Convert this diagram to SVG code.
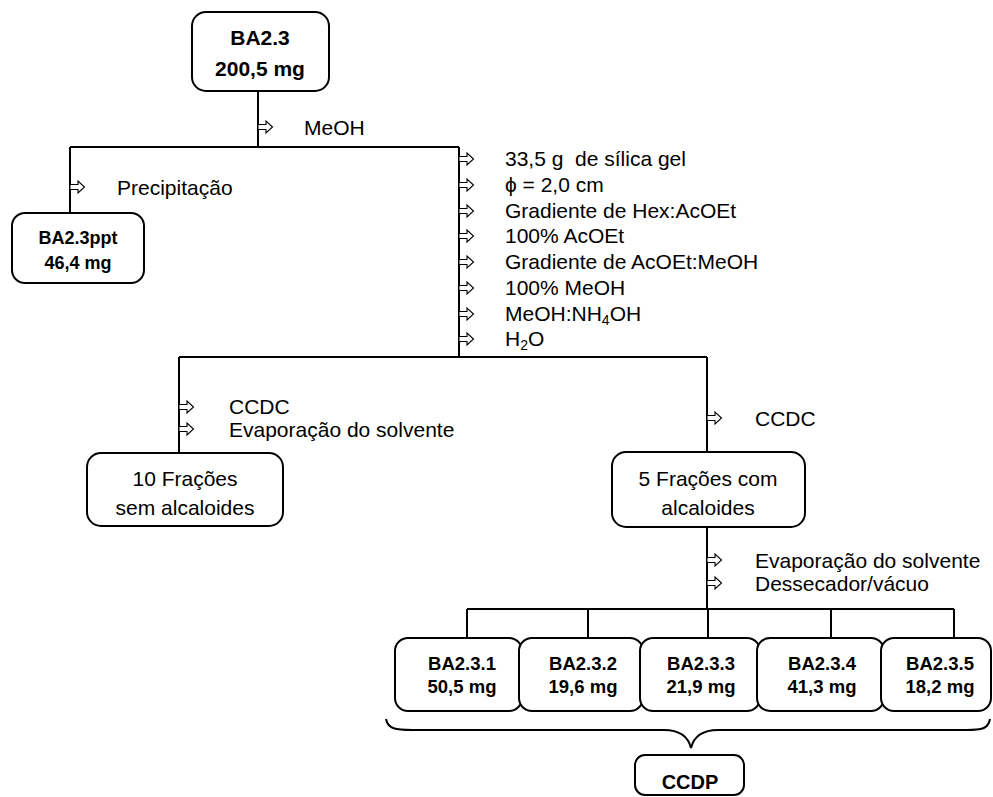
<svg xmlns="http://www.w3.org/2000/svg" xmlns:xlink="http://www.w3.org/1999/xlink" width="993" height="797" viewBox="0 0 993 797">
  <style>
    .box { fill: #fff; stroke: #000; stroke-width: 2; }
    .line { fill: none; stroke: #000; stroke-width: 2; }
    .t { font-family: "Liberation Sans", Arial, sans-serif; font-size: 21px; fill: #000; }
    .b { font-family: "Liberation Sans", Arial, sans-serif; font-weight: bold; fill: #000; text-anchor: middle; }
    .c { text-anchor: middle; }
  </style>
  <defs>
    <!-- hollow step arrow used in front of every operation label -->
    <path id="arr" d="M0,-2.5 H8 V-6 L14.5,0 L8,6 V2.5 H0 Z" fill="#fff" stroke="#000" stroke-width="1.1" stroke-linejoin="miter"/>
  </defs>
  <rect width="993" height="797" fill="#fff"/>

  <!-- connectors -->
  <g id="connectors">
    <path class="line" d="M258,91 V147 M70,147 H459 M70,147 V213 M459,147 V357"/>
    <path class="line" d="M179,357 H707 M179,357 V453 M707,357 V452"/>
    <path class="line" d="M707,527 V609 M467,609 H954 M467,609 V638 M588,609 V638 M708,609 V638 M831,609 V638 M954,609 V638"/>
    <!-- brace gathering the five fractions -->
    <path class="line" stroke-width="1.8" d="M386,719 C388,729 396,730 412,730 H664 C680,730 688,736 691,748 C694,736 702,730 718,730 H966 C982,730 988,729 990,719"/>
    <!-- step arrows -->
    <use xlink:href="#arr" x="258" y="127"/>
    <use xlink:href="#arr" x="70" y="187"/>
    <use xlink:href="#arr" x="459" y="159"/>
    <use xlink:href="#arr" x="459" y="185"/>
    <use xlink:href="#arr" x="459" y="211"/>
    <use xlink:href="#arr" x="459" y="236"/>
    <use xlink:href="#arr" x="459" y="262"/>
    <use xlink:href="#arr" x="459" y="288"/>
    <use xlink:href="#arr" x="459" y="314"/>
    <use xlink:href="#arr" x="459" y="339"/>
    <use xlink:href="#arr" x="179" y="407"/>
    <use xlink:href="#arr" x="179" y="429"/>
    <use xlink:href="#arr" x="707" y="418"/>
    <use xlink:href="#arr" x="707" y="560"/>
    <use xlink:href="#arr" x="707" y="583"/>
  </g>

  <!-- operation labels -->
  <g id="labels">
    <text class="t" x="304" y="135">MeOH</text>
    <text class="t" x="117" y="195">Precipitação</text>
    <text class="t" x="505" y="166">33,5 g&#160; de sílica gel</text>
    <text class="t" x="505" y="192">ϕ = 2,0 cm</text>
    <text class="t" x="505" y="218">Gradiente de Hex:AcOEt</text>
    <text class="t" x="505" y="243">100% AcOEt</text>
    <text class="t" x="505" y="269">Gradiente de AcOEt:MeOH</text>
    <text class="t" x="505" y="295">100% MeOH</text>
    <text class="t" x="505" y="321">MeOH:NH<tspan font-size="14" dy="4">4</tspan><tspan dy="-4">OH</tspan></text>
    <text class="t" x="505" y="346">H<tspan font-size="14" dy="4">2</tspan><tspan dy="-4">O</tspan></text>
    <text class="t" x="229" y="414">CCDC</text>
    <text class="t" x="229" y="437">Evaporação do solvente</text>
    <text class="t" x="755" y="426">CCDC</text>
    <text class="t" x="755" y="568">Evaporação do solvente</text>
    <text class="t" x="755" y="591">Dessecador/vácuo</text>
  </g>

  <g id="n-ba23">
    <rect class="box" x="192" y="12" width="137" height="79" rx="14"/>
    <text class="b" x="260" y="45" font-size="21">BA2.3</text>
    <text class="b" x="260" y="76" font-size="21">200,5 mg</text>
  </g>
  <g id="n-ppt">
    <rect class="box" x="12" y="213" width="132" height="70" rx="13"/>
    <text class="b" x="78" y="244" font-size="18">BA2.3ppt</text>
    <text class="b" x="78" y="269" font-size="18">46,4 mg</text>
  </g>
  <g id="n-sem">
    <rect class="box" x="87" y="453" width="196" height="73" rx="14"/>
    <text class="t c" x="185" y="486">10 Frações</text>
    <text class="t c" x="185" y="515">sem alcaloides</text>
  </g>
  <g id="n-com">
    <rect class="box" x="612" y="452" width="193" height="75" rx="14"/>
    <text class="t c" x="708" y="486">5 Frações com</text>
    <text class="t c" x="708" y="515">alcaloides</text>
  </g>
  <g id="n-1">
    <rect class="box" x="395" y="638" width="127" height="73" rx="13"/>
    <text class="b" x="462" y="670" font-size="18.5">BA2.3.1</text>
    <text class="b" x="462" y="693" font-size="18.5">50,5 mg</text>
  </g>
  <g id="n-2">
    <rect class="box" x="519" y="638" width="124" height="73" rx="13"/>
    <text class="b" x="583" y="670" font-size="18.5">BA2.3.2</text>
    <text class="b" x="583" y="693" font-size="18.5">19,6 mg</text>
  </g>
  <g id="n-3">
    <rect class="box" x="640" y="638" width="120" height="73" rx="13"/>
    <text class="b" x="701" y="670" font-size="18.5">BA2.3.3</text>
    <text class="b" x="701" y="693" font-size="18.5">21,9 mg</text>
  </g>
  <g id="n-4">
    <rect class="box" x="757" y="638" width="127" height="73" rx="13"/>
    <text class="b" x="822" y="670" font-size="18.5">BA2.3.4</text>
    <text class="b" x="822" y="693" font-size="18.5">41,3 mg</text>
  </g>
  <g id="n-5">
    <rect class="box" x="881" y="638" width="110" height="73" rx="13"/>
    <text class="b" x="940" y="670" font-size="18.5">BA2.3.5</text>
    <text class="b" x="940" y="693" font-size="18.5">18,2 mg</text>
  </g>
  <g id="n-ccdp">
    <rect class="box" x="635" y="755" width="109" height="40" rx="10"/>
    <text class="b" x="690" y="789" font-size="20">CCDP</text>
  </g>
</svg>
